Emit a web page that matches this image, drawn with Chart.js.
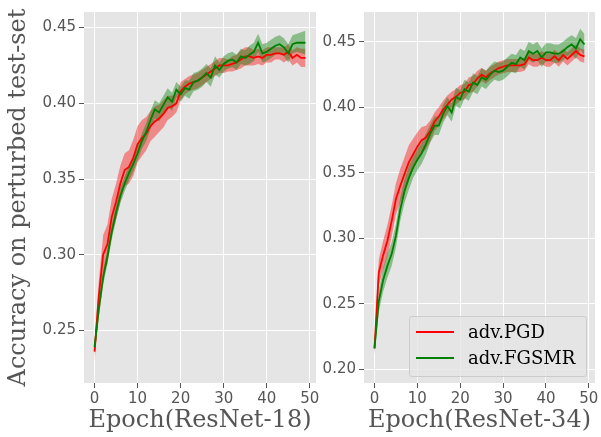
<!DOCTYPE html>
<html>
<head>
<meta charset="utf-8">
<script src="https://cdn.jsdelivr.net/npm/chart.js@4.4.1/dist/chart.umd.min.js"></script>
<style>
  body { margin: 0; background: #fff; }
  #wrap { position: relative; width: 601px; height: 437px; overflow: hidden; }
  #left { position: absolute; left: 0; top: 0; }
  #right { position: absolute; left: 318px; top: 0; }
  #legend {
    position: absolute; left: 409px; top: 316px; width: 176px; height: 57px;
    border: 1px solid #cccccc; border-radius: 3px; background: rgba(229,229,229,0.8);
    font-family: 'DejaVu Serif', serif; font-size: 18px; color: #000;
    padding-top: 2px; box-sizing: content-box;
  }
  #legend .row { display: flex; align-items: center; height: 26px; line-height: 26px; padding-left: 6px; }
  #legend .swatch { width: 38px; height: 2px; margin-right: 14px; }
</style>
</head>
<body>
<div id="wrap">
  <canvas id="left" width="330" height="437"></canvas>
  <canvas id="right" width="283" height="437"></canvas>
  <div id="legend">
    <div class="row"><span class="swatch" style="background:#ff0000"></span>adv.PGD</div>
    <div class="row"><span class="swatch" style="background:#008000"></span>adv.FGSMR</div>
  </div>
</div>
<script>
'use strict'

// epochs 0..49
var epochs = [0, 1, 2, 3, 4, 5, 6, 7, 8, 9, 10, 11, 12, 13, 14, 15, 16, 17, 18, 19,
  20, 21, 22, 23, 24, 25, 26, 27, 28, 29, 30, 31, 32, 33, 34, 35, 36, 37, 38, 39,
  40, 41, 42, 43, 44, 45, 46, 47, 48, 49]

var xTicks = [0, 10, 20, 30, 40, 50]
var yTicksR18 = [0.25, 0.30, 0.35, 0.40, 0.45]
var yTicksR34 = [0.20, 0.25, 0.30, 0.35, 0.40, 0.45]

// ResNet-18 (mean, std over runs)
var pgd18 = [0.236, 0.273, 0.300, 0.307, 0.325, 0.335, 0.347, 0.356, 0.358, 0.364,
  0.373, 0.377, 0.380, 0.385, 0.388, 0.390, 0.393, 0.397, 0.398, 0.400,
  0.408, 0.411, 0.413, 0.414, 0.415, 0.417, 0.419, 0.421, 0.423, 0.425,
  0.425, 0.425, 0.426, 0.427, 0.429, 0.431, 0.431, 0.430, 0.431, 0.430,
  0.432, 0.432, 0.433, 0.433, 0.432, 0.434, 0.430, 0.432, 0.430, 0.430]
var pgd18Std = [0.007, 0.010, 0.013, 0.013, 0.012, 0.012, 0.012, 0.011, 0.011, 0.012,
  0.012, 0.012, 0.011, 0.010, 0.010, 0.009, 0.009, 0.008, 0.007, 0.006,
  0.006, 0.005, 0.005, 0.005, 0.005, 0.005, 0.005, 0.005, 0.005, 0.005,
  0.005, 0.004, 0.005, 0.005, 0.006, 0.006, 0.006, 0.005, 0.005, 0.005,
  0.005, 0.005, 0.004, 0.004, 0.005, 0.005, 0.005, 0.005, 0.006, 0.006]
var fgsmr18 = [0.239, 0.264, 0.285, 0.299, 0.315, 0.328, 0.339, 0.347, 0.354, 0.360,
  0.367, 0.375, 0.381, 0.389, 0.396, 0.394, 0.399, 0.404, 0.401, 0.409,
  0.406, 0.410, 0.409, 0.414, 0.415, 0.417, 0.420, 0.417, 0.425, 0.422,
  0.426, 0.428, 0.429, 0.427, 0.431, 0.430, 0.432, 0.434, 0.440, 0.433,
  0.434, 0.436, 0.438, 0.439, 0.437, 0.433, 0.439, 0.440, 0.440, 0.440]
var fgsmr18Std = [0.006, 0.005, 0.005, 0.005, 0.005, 0.005, 0.005, 0.005, 0.005, 0.005,
  0.005, 0.005, 0.006, 0.006, 0.006, 0.006, 0.006, 0.006, 0.006, 0.005,
  0.005, 0.005, 0.006, 0.006, 0.006, 0.006, 0.006, 0.006, 0.006, 0.005,
  0.005, 0.005, 0.005, 0.005, 0.005, 0.005, 0.006, 0.006, 0.006, 0.006,
  0.006, 0.006, 0.006, 0.006, 0.006, 0.006, 0.006, 0.006, 0.007, 0.008]

// ResNet-34
var pgd34 = [0.216, 0.274, 0.287, 0.298, 0.313, 0.330, 0.340, 0.349, 0.358, 0.364,
  0.370, 0.375, 0.377, 0.382, 0.389, 0.393, 0.398, 0.402, 0.406, 0.408,
  0.411, 0.412, 0.417, 0.418, 0.422, 0.425, 0.423, 0.426, 0.428, 0.430,
  0.431, 0.432, 0.432, 0.432, 0.432, 0.433, 0.438, 0.436, 0.436, 0.438,
  0.436, 0.436, 0.439, 0.436, 0.440, 0.437, 0.440, 0.443, 0.440, 0.439]
var pgd34Std = [0.006, 0.010, 0.011, 0.012, 0.012, 0.012, 0.013, 0.013, 0.013, 0.012,
  0.011, 0.010, 0.009, 0.008, 0.007, 0.007, 0.007, 0.007, 0.006, 0.006,
  0.006, 0.006, 0.006, 0.006, 0.006, 0.005, 0.005, 0.005, 0.005, 0.005,
  0.005, 0.005, 0.005, 0.005, 0.005, 0.005, 0.005, 0.005, 0.005, 0.005,
  0.005, 0.005, 0.005, 0.005, 0.005, 0.005, 0.005, 0.005, 0.005, 0.005]
var fgsmr34 = [0.216, 0.252, 0.268, 0.279, 0.288, 0.302, 0.322, 0.336, 0.346, 0.354,
  0.360, 0.365, 0.372, 0.380, 0.386, 0.386, 0.395, 0.401, 0.396, 0.408,
  0.406, 0.414, 0.412, 0.419, 0.417, 0.423, 0.421, 0.425, 0.428, 0.427,
  0.428, 0.431, 0.434, 0.433, 0.438, 0.436, 0.443, 0.441, 0.443, 0.438,
  0.442, 0.442, 0.441, 0.441, 0.443, 0.446, 0.448, 0.445, 0.452, 0.448]
var fgsmr34Std = [0.005, 0.008, 0.009, 0.009, 0.009, 0.009, 0.009, 0.009, 0.009, 0.008,
  0.008, 0.008, 0.008, 0.007, 0.007, 0.007, 0.007, 0.007, 0.007, 0.007,
  0.007, 0.007, 0.007, 0.007, 0.007, 0.007, 0.007, 0.007, 0.007, 0.007,
  0.007, 0.007, 0.007, 0.007, 0.007, 0.007, 0.007, 0.007, 0.007, 0.007,
  0.007, 0.007, 0.007, 0.007, 0.007, 0.007, 0.007, 0.008, 0.008, 0.008]

var RED = '#ff0000'
var GREEN = '#008000'
var RED_FILL = 'rgba(255,0,0,0.4)'
var GREEN_FILL = 'rgba(0,128,0,0.4)'
var TEXT = '#555555'

function points(values, std, sign) {
  return epochs.map(function (e, i) {
    return { x: e, y: values[i] + sign * (std ? std[i] : 0) }
  })
}

function band(values, std, fill, order) {
  return [
    { data: points(values, std, -1), borderWidth: 0, pointRadius: 0, fill: false, order: order },
    { data: points(values, std, 1), borderWidth: 0, pointRadius: 0, fill: '-1', backgroundColor: fill, order: order }
  ]
}

function line(values, color, order) {
  return { data: points(values, null, 0), borderColor: color, borderWidth: 1.8, pointRadius: 0, fill: false, order: order }
}

var plotBackground = {
  id: 'plotBackground',
  beforeDraw: function (chart) {
    var a = chart.chartArea
    var ctx = chart.ctx
    ctx.save()
    ctx.fillStyle = '#e5e5e5'
    ctx.fillRect(a.left, a.top, a.right - a.left, a.bottom - a.top)
    ctx.restore()
  }
}

function fixedTicks(list) {
  return function (scale) {
    scale.ticks = list.map(function (v) { return { value: v } })
  }
}

function makeChart(id, pgd, pgdStd, fgsmr, fgsmrStd, opts) {
  var datasets = []
    .concat(band(pgd, pgdStd, RED_FILL, 4))
    .concat(band(fgsmr, fgsmrStd, GREEN_FILL, 3))
    .concat([line(pgd, RED, 1), line(fgsmr, GREEN, 0)])

  return new Chart(document.getElementById(id), {
    type: 'line',
    data: { datasets: datasets },
    plugins: [plotBackground],
    options: {
      responsive: false,
      animation: false,
      events: [],
      layout: { padding: opts.padding },
      elements: { line: { tension: 0 } },
      plugins: { legend: { display: false }, tooltip: { enabled: false } },
      scales: {
        x: {
          type: 'linear',
          min: -2.45,
          max: 51.45,
          afterBuildTicks: fixedTicks(xTicks),
          afterFit: function (s) { s.height = 54 },
          grid: { color: '#ffffff', lineWidth: 1, tickColor: TEXT, tickLength: 5 },
          border: { display: false },
          ticks: { color: TEXT, padding: 2, maxRotation: 0, font: { family: 'DejaVu Sans', size: 15 } },
          title: {
            display: true,
            text: opts.xTitle,
            color: TEXT,
            padding: { top: 0, bottom: 2 },
            font: { family: 'DejaVu Serif', size: 24 }
          }
        },
        y: {
          type: 'linear',
          min: opts.yMin,
          max: opts.yMax,
          afterBuildTicks: fixedTicks(opts.yTicks),
          afterFit: function (s) { s.width = opts.yWidth },
          grid: { color: '#ffffff', lineWidth: 1, tickColor: TEXT, tickLength: 5 },
          border: { display: false },
          ticks: {
            color: TEXT,
            padding: 3,
            font: { family: 'DejaVu Sans', size: 15 },
            callback: function (v) { return v.toFixed(2) }
          },
          title: {
            display: !!opts.yTitle,
            text: opts.yTitle || '',
            color: TEXT,
            padding: { top: 4, bottom: 0 },
            font: { family: 'DejaVu Serif', size: 24 }
          }
        }
      }
    }
  })
}

makeChart('left', pgd18, pgd18Std, fgsmr18, fgsmr18Std, {
  padding: { left: 0, right: 14, top: 11, bottom: 0 },
  yMin: 0.2153, yMax: 0.4603, yTicks: yTicksR18, yWidth: 84,
  xTitle: 'Epoch(ResNet-18)',
  yTitle: 'Accuracy on perturbed test-set'
})

makeChart('right', pgd34, pgd34Std, fgsmr34, fgsmr34Std, {
  padding: { left: 0, right: 6, top: 11, bottom: 0 },
  yMin: 0.1896, yMax: 0.4728, yTicks: yTicksR34, yWidth: 46,
  xTitle: 'Epoch(ResNet-34)'
})
</script>
</body>
</html>
